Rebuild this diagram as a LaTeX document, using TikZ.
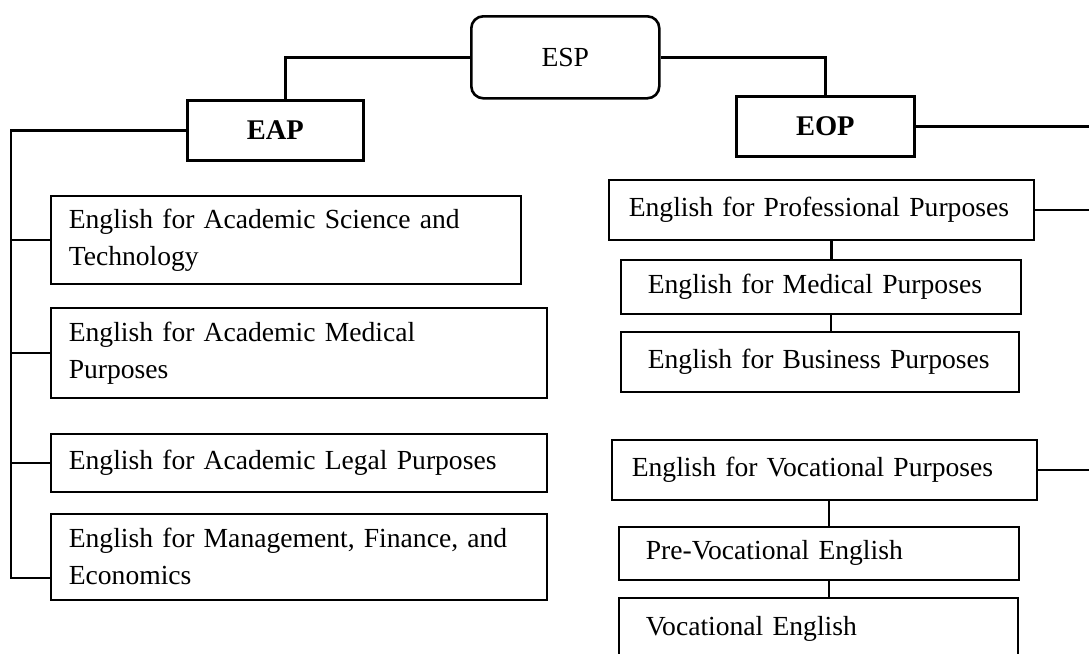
\documentclass[tikz,border=0pt]{standalone}
\usepackage{fontspec}
\setmainfont{Liberation Serif}
\usetikzlibrary{positioning}
\tikzset{headbox/.style = {draw, line width=2.6pt, anchor=north west, minimum height=60pt,
                           font=\fontsize{28.5}{34}\selectfont\bfseries}}
\tikzset{itembox/.style = {draw, line width=1.6pt, anchor=north west, align=left, inner ysep=0pt,
                           font=\fontsize{27.6}{37}\selectfont}}
\tikzset{link/.style = {line width=2.6pt}}

\begin{document}
\begin{tikzpicture}[x=1pt, y=-1pt]
    \useasboundingbox (0, 0) rectangle (1089, 653);

    \node [draw, line width=2.6pt, rounded corners=12pt, anchor=north west, minimum width=188pt,
           minimum height=82pt, font=\fontsize{27.6}{32}\selectfont] (esp) at (470, 15) {ESP};
    \node [headbox, minimum width=176pt] (eap) at (186, 99) {EAP};
    \node [headbox, minimum width=178pt] (eop) at (735, 95) {EOP};

    % academic purposes
    \node [itembox, inner xsep=18pt, text width=434pt, minimum height=88pt] (sci) at (50, 195) {English for Academic Science and\\Technology};
    \node [itembox, inner xsep=18pt, text width=460pt, minimum height=90pt] (med) at (50, 307) {English for Academic Medical\\Purposes};
    \node [itembox, inner xsep=18pt, text width=460pt, minimum height=58pt] (leg) at (50, 433) {English for Academic Legal Purposes};
    \node [itembox, inner xsep=18pt, text width=460pt, minimum height=86pt] (mfe) at (50, 513) {English for Management, Finance, and\\Economics};

    % occupational purposes
    \node [itembox, inner xsep=20pt, text width=385pt, minimum height=60pt] (epp) at (608, 179) {English for Professional Purposes};
    \node [itembox, inner xsep=27pt, text width=346pt, minimum height=54pt] (emp) at (620, 259) {English for Medical Purposes};
    \node [itembox, inner xsep=27pt, text width=344pt, minimum height=60pt] (ebp) at (620, 331) {English for Business Purposes};
    \node [itembox, inner xsep=20pt, text width=385pt, minimum height=60pt] (evp) at (611, 439) {English for Vocational Purposes};
    \node [itembox, inner xsep=27pt, text width=346pt, minimum height=53pt] (pve) at (618, 526) {Pre-Vocational English};
    \node [itembox, inner xsep=27pt, text width=345pt, minimum height=62pt] (ve) at (618, 597) {Vocational English};

    \draw [link] (esp.west) -| ([xshift=10pt]eap.north);
    \draw [link] (esp.east) -| (eop.north);

    \coordinate (trunk) at (11, 578);
    \draw [link] (eap.west) -| (trunk) -- (trunk -| mfe.west);
    \draw [link] (trunk |- sci.west) -- (sci.west);
    \draw [link] (trunk |- med.west) -- (med.west);
    \draw [link] (trunk |- leg.west) -- (leg.west);

    \coordinate (edge) at (1089, 0);
    \draw [link] (eop.east) -- (eop.east -| edge);
    \draw [link] (epp.east) -- (epp.east -| edge);
    \draw [link] (evp.east) -- (evp.east -| edge);

    \draw [link] ([xshift=10pt]epp.south) -- ([xshift=10pt]epp.south |- emp.north);
    \draw [link] ([xshift=10pt]emp.south) -- ([xshift=10pt]emp.south |- ebp.north);
    \draw [link] ([xshift=10pt]pve.north) -- ([xshift=10pt]pve.north |- evp.south);
    \draw [link] ([xshift=10pt]pve.south) -- ([xshift=10pt]pve.south |- ve.north);
  \end{tikzpicture}
\end{document}
